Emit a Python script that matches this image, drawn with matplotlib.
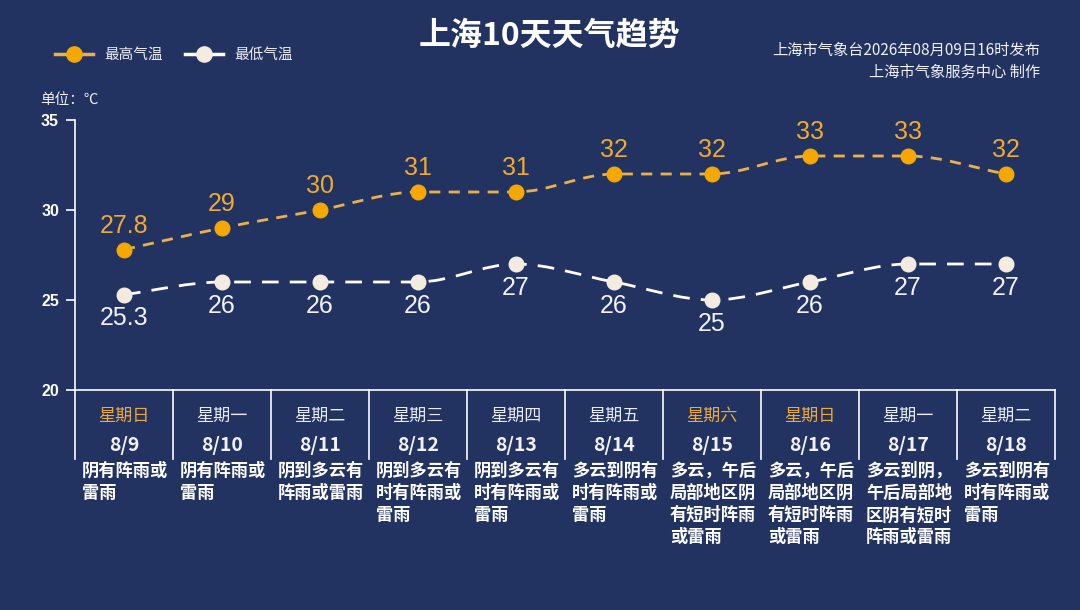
import matplotlib
matplotlib.use("Agg")
import matplotlib.pyplot as plt
import numpy as np
from matplotlib.lines import Line2D
from matplotlib.path import Path
from matplotlib.patches import PathPatch

plt.rcParams["font.family"] = ["Noto Sans CJK SC", "DejaVu Sans"]

# ---- data ----
weekdays = ["星期日", "星期一", "星期二", "星期三", "星期四",
            "星期五", "星期六", "星期日", "星期一", "星期二"]
dates = ["8/9", "8/10", "8/11", "8/12", "8/13",
         "8/14", "8/15", "8/16", "8/17", "8/18"]
weekend = [True, False, False, False, False, False, True, True, False, False]
t_high = [27.8, 29, 30, 31, 31, 32, 32, 33, 33, 32]
t_low = [25.3, 26, 26, 26, 27, 26, 25, 26, 27, 27]
weather = [
    "阴有阵雨或雷雨",
    "阴有阵雨或雷雨",
    "阴到多云有阵雨或雷雨",
    "阴到多云有时有阵雨或雷雨",
    "阴到多云有时有阵雨或雷雨",
    "多云到阴有时有阵雨或雷雨",
    "多云，午后局部地区阴有短时阵雨或雷雨",
    "多云，午后局部地区阴有短时阵雨或雷雨",
    "多云到阴，午后局部地区阴有短时阵雨或雷雨",
    "多云到阴有时有阵雨或雷雨",
]
y_ticks = [20, 25, 30, 35]

BG = "#233361"
ORANGE = "#f6a800"
ORANGE_LINE = "#e9b14a"
ORANGE_TXT = "#efaa33"
LOW_DOT = "#f4ece1"
WHITE = "#ffffff"
NUM_FONT = ["Liberation Sans", "DejaVu Sans"]


def smooth_path(xs, ys):
    """Monotone cubic bezier path through the points (data coords)."""
    xs = np.asarray(xs, float)
    ys = np.asarray(ys, float)
    d = np.diff(ys) / np.diff(xs)
    m = np.zeros_like(ys)
    m[0], m[-1] = d[0], d[-1]
    for i in range(1, len(ys) - 1):
        if d[i - 1] * d[i] > 0:
            m[i] = (d[i - 1] + d[i]) / 2
    verts = [(xs[0], ys[0])]
    codes = [Path.MOVETO]
    for i in range(len(xs) - 1):
        h = xs[i + 1] - xs[i]
        verts += [(xs[i] + h / 3, ys[i] + m[i] * h / 3),
                  (xs[i + 1] - h / 3, ys[i + 1] - m[i + 1] * h / 3),
                  (xs[i + 1], ys[i + 1])]
        codes += [Path.CURVE4] * 3
    return Path(verts, codes)


fig = plt.figure(figsize=(10.8, 6.1), dpi=100, facecolor=BG)
W, H = 1080, 610
x0, x1, y_top, y_bot, y_tab = 75, 1055, 120, 390, 459
ax = fig.add_axes([x0 / W, 1 - y_bot / H, (x1 - x0) / W, (y_bot - y_top) / H])
ax.set_facecolor(BG)
n = len(dates)
x = np.arange(n)
ax.set_xlim(-0.5, n - 0.5)
ax.set_ylim(20, 35)

for s in ("top", "right"):
    ax.spines[s].set_visible(False)
for s in ("left", "bottom"):
    ax.spines[s].set_color(WHITE)
    ax.spines[s].set_linewidth(1.2)
ax.set_xticks([])
ax.set_yticks(y_ticks)
ax.tick_params(axis="y", colors=WHITE, length=6.5, width=1.2, pad=5)
for lab in ax.get_yticklabels():
    lab.set_fontfamily(NUM_FONT)
    lab.set_fontweight("bold")
    lab.set_fontsize(11.5)

# lines
hp = PathPatch(smooth_path(x, t_high), facecolor="none", edgecolor=ORANGE_LINE,
               lw=2, linestyle=(0, (4, 3)), zorder=3)
lp = PathPatch(smooth_path(x, t_low), facecolor="none", edgecolor=WHITE,
               lw=2, linestyle=(0, (6, 4)), zorder=3)
ax.add_patch(hp)
ax.add_patch(lp)
ax.plot(x, t_high, "o", color=ORANGE, ms=10.5, zorder=4)
ax.plot(x, t_low, "o", color=LOW_DOT, ms=10.5, zorder=4)

for xi, v in zip(x, t_high):
    ax.annotate(f"{v:g}", (xi, v), xytext=(0, 17), textcoords="offset points",
                ha="center", va="center", color=ORANGE_TXT, fontsize=18,
                family=NUM_FONT)
for xi, v in zip(x, t_low):
    ax.annotate(f"{v:g}", (xi, v), xytext=(0, -17), textcoords="offset points",
                ha="center", va="center", color="#f2f2f6", fontsize=18,
                family=NUM_FONT)

# table below the axis
tab = fig.add_axes([x0 / W, 1 - y_tab / H, (x1 - x0) / W, (y_tab - y_bot) / H])
tab.set_xlim(-0.5, n - 0.5)
tab.set_ylim(0, 1)
tab.axis("off")
for b in np.arange(n + 1) - 0.5:
    tab.plot([b, b], [0, 1], color=WHITE, lw=1.2, clip_on=False)
for xi, wd, dt, we, desc in zip(x, weekdays, dates, weekend, weather):
    tab.text(xi, 0.62, wd, ha="center", va="center", fontsize=12.3,
             color=ORANGE_TXT if we else "#e8ecf5")
    tab.text(xi, 0.2, dt, ha="center", va="center", fontsize=14,
             fontweight="bold", color="#f2f2f6")
    lines = [desc[i:i + 5] for i in range(0, len(desc), 5)]
    tab.text(xi - 0.43, -0.04, "\n".join(lines), ha="left", va="top",
             fontsize=12.4, fontweight="bold", color=WHITE, linespacing=1.3)

# title and header texts
fig.text(549 / W, 1 - 36 / H, "上海10天天气趋势", ha="center", va="center",
         fontsize=23, fontweight="bold", color=WHITE)
fig.text(1040 / W, 1 - 50 / H, "上海市气象台2026年08月09日16时发布",
         ha="right", va="center", fontsize=11, color="#eef0f6")
fig.text(1040 / W, 1 - 72 / H, "上海市气象服务中心 制作",
         ha="right", va="center", fontsize=11, color="#eef0f6")
fig.text(40 / W, 1 - 100 / H, "单位：℃", ha="left", va="center",
         fontsize=10.5, color="#eef0f6")

handles = [
    Line2D([], [], color=ORANGE_LINE, lw=2.5, marker="o", ms=11,
           markerfacecolor=ORANGE, markeredgecolor=ORANGE),
    Line2D([], [], color=WHITE, lw=2.5, marker="o", ms=11,
           markerfacecolor=LOW_DOT, markeredgecolor=LOW_DOT),
]
leg = fig.legend(handles, ["最高气温", "最低气温"], loc="center left",
                 bbox_to_anchor=(42 / W, 1 - 55 / H), ncol=2, frameon=False,
                 handlelength=2.6, handletextpad=0.8, columnspacing=1.5,
                 fontsize=10.5, labelcolor="#eef0f6")

fig.savefig("out.png", dpi=100, facecolor=BG)
